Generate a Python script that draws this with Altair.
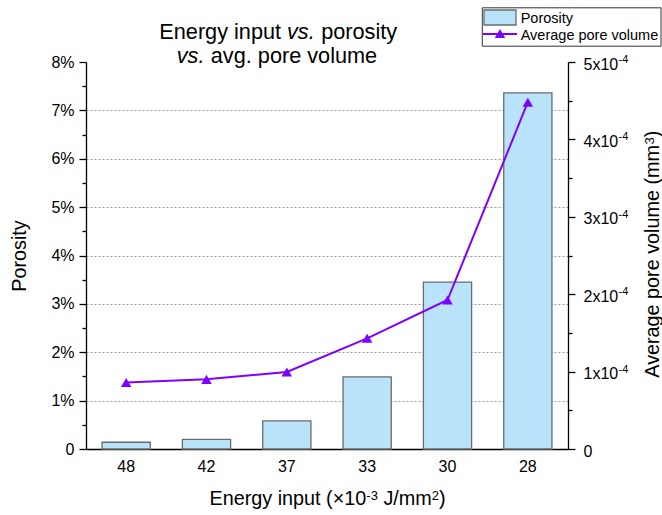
import altair as alt
import pandas as pd

# ---------------- data ----------------
energy = ["48", "42", "37", "33", "30", "28"]
porosity_pct = [0.14, 0.20, 0.58, 1.49, 3.45, 7.36]
avg_pore_volume = [0.86e-4, 0.90e-4, 0.995e-4, 1.43e-4, 1.925e-4, 4.48e-4]

left_tick_values = [0, 0.5, 1, 1.5, 2, 2.5, 3, 3.5, 4, 4.5, 5, 5.5, 6, 6.5, 7, 7.5, 8]
right_tick_values = [0, 0.5e-4, 1e-4, 1.5e-4, 2e-4, 2.5e-4, 3e-4, 3.5e-4, 4e-4, 4.5e-4, 5e-4]
right_major_values = [1e-4, 2e-4, 3e-4, 4e-4, 5e-4]
right_exponent = "-4"

title_line1 = ["Energy input", "vs.", "porosity"]
title_line2 = ["vs.", "avg. pore volume"]
x_title_parts = ["Energy input (×10", "-3", "J/mm", "2", ")"]
y2_title_parts = ["Average pore volume (mm", "3", ")"]
legend_labels = ["Porosity", "Average pore volume"]

df = pd.DataFrame({"energy": energy, "porosity": porosity_pct, "volume": avg_pore_volume})
exp_df = pd.DataFrame({"volume": right_major_values, "label": [right_exponent] * len(right_major_values)})

W, H = 482, 387
FONT = "Liberation Sans"
BAR_FILL = "#B9E3FB"
BAR_STROKE = "#6b6b6b"
PURPLE = "#7F00FF"

x_enc = alt.X(
    "energy:N",
    sort=energy,
    scale=alt.Scale(paddingInner=0.4, paddingOuter=0.2),
    axis=alt.Axis(
        title=None,
        ticks=False,
        labelAngle=0,
        labelFontSize=16,
        labelPadding=9,
        domainColor="black",
        domainWidth=1.3,
    ),
)

major_left = "datum.value % 1 == 0"
bars = alt.Chart(df).mark_bar(fill=BAR_FILL, stroke=BAR_STROKE, strokeWidth=1.3).encode(
    x=x_enc,
    y=alt.Y(
        "porosity:Q",
        scale=alt.Scale(domain=[0, 8], nice=False, zero=True),
        axis=alt.Axis(
            title="Porosity",
            orient="left",
            values=left_tick_values,
            labelExpr="datum.value == 0 ? '0' : (" + major_left + " ? datum.value + '%' : '')",
            labelOverlap=False,
            labelFontSize=16,
            labelPadding=5,
            tickSize={"condition": {"test": major_left, "value": 7}, "value": 4},
            tickColor="black",
            tickWidth=1.3,
            domainColor="black",
            domainWidth=1.3,
            grid=True,
            gridDash=[2, 2],
            gridColor="#9a9a9a",
            gridWidth=1,
            gridOpacity={
                "condition": {"test": major_left + " && datum.value > 0 && datum.value < 8", "value": 1},
                "value": 0,
            },
            titleFontSize=19.8,
            titleAngle=270,
            titleBaseline="alphabetic",
            titleX=-60.3,
            titleY=H / 2,
        ),
    ),
)

major_right = "abs(datum.value * 1e4 - round(datum.value * 1e4)) < 1e-6"
vol_y = alt.Y(
    "volume:Q",
    scale=alt.Scale(domain=[0, 5e-4], nice=False, zero=True),
    axis=alt.Axis(
        title=None,
        orient="right",
        values=right_tick_values,
        labelExpr="datum.value == 0 ? '0' : (" + major_right + " ? round(datum.value * 1e4) + 'x10' : '')",
        labelOverlap=False,
        labelFontSize=16,
        labelPadding=8,
        labelOffset=2,
        tickSize={"condition": {"test": major_right, "value": 7}, "value": 4},
        tickColor="black",
        tickWidth=1.3,
        domainColor="black",
        domainWidth=1.3,
        grid=False,
    ),
)
vol_base = alt.Chart(df).encode(x=x_enc, y=vol_y)
line = vol_base.mark_line(color=PURPLE, strokeWidth=2)
pts = vol_base.mark_point(shape="triangle-up", filled=True, size=110, color=PURPLE, opacity=1)
exps = alt.Chart(exp_df).mark_text(
    font=FONT, fontSize=11, color="black", align="left", baseline="alphabetic", dy=1
).encode(
    x=alt.value(W + 50.5),
    y=vol_y,
    text="label:N",
)
vol_layer = alt.layer(line, pts, exps)

one = alt.Data(values=[{}])


def txt(s, x, y, size, italic=False, angle=None):
    kw = dict(font=FONT, fontSize=size, color="black", align="left", baseline="alphabetic")
    if italic:
        kw["fontStyle"] = "italic"
    if angle is not None:
        kw["angle"] = angle
    return alt.Chart(one).mark_text(**kw).encode(
        x=alt.value(x), y=alt.value(y), text=alt.value(s)
    )


TS = 21.7
AS = 19.8
SS = 13
title_marks = [
    txt(title_line1[0], 73.3, -22.7, TS),
    txt(title_line1[1], 201.0, -22.7, TS, italic=True),
    txt(title_line1[2], 235.2, -22.7, TS),
    txt(title_line2[0], 90.7, 1.0, TS, italic=True),
    txt(title_line2[1], 124.8, 1.0, TS),
]

XT_Y = 443
axis_title_marks = [
    txt(x_title_parts[0], 123.5, XT_Y, AS),
    txt(x_title_parts[1], 280.3, XT_Y - 5, SS),
    txt(x_title_parts[2], 297.4, XT_Y, AS),
    txt(x_title_parts[3], 345.8, XT_Y - 5, SS),
    txt(x_title_parts[4], 353.0, XT_Y, AS),
    txt(y2_title_parts[0], W + 91, 315.7, AS, angle=270),
    txt(y2_title_parts[1], W + 86, 82.4, SS, angle=270),
    txt(y2_title_parts[2], W + 91, 75.2, AS, angle=270),
]

legend_box = alt.Chart(one).mark_rect(fill="white", stroke="#333333", strokeWidth=1).encode(
    x=alt.value(396.3), x2=alt.value(575), y=alt.value(-54.2), y2=alt.value(-15.8)
)
legend_swatch = alt.Chart(one).mark_rect(fill=BAR_FILL, stroke=BAR_STROKE, strokeWidth=1.3).encode(
    x=alt.value(398), x2=alt.value(430), y=alt.value(-52), y2=alt.value(-37)
)
legend_line = alt.Chart(one).mark_rule(color=PURPLE, strokeWidth=2).encode(
    x=alt.value(397), x2=alt.value(431), y=alt.value(-28)
)
legend_tri = alt.Chart(one).mark_point(shape="triangle-up", filled=True, size=110, color=PURPLE, opacity=1).encode(
    x=alt.value(414), y=alt.value(-28.5)
)
legend_marks = [
    legend_box,
    legend_swatch,
    legend_line,
    legend_tri,
    txt(legend_labels[0], 434.7, -39.3, 14.5),
    txt(legend_labels[1], 434.7, -22.0, 14.5),
]

main = alt.layer(bars, vol_layer).resolve_scale(y="independent")

chart = (
    alt.layer(main, *title_marks, *axis_title_marks, *legend_marks)
    .properties(
        width=W,
        height=H,
        autosize=alt.AutoSizeParams(type="none"),
        padding={"left": 86, "top": 62, "right": 94, "bottom": 66},
        background="white",
    )
    .configure_view(stroke=None)
    .configure_axis(
        labelFont=FONT,
        titleFont=FONT,
        labelColor="black",
        titleColor="black",
        titleFontWeight="normal",
    )
)

chart.save("out.html", embed_options={"renderer": "svg", "actions": False})
